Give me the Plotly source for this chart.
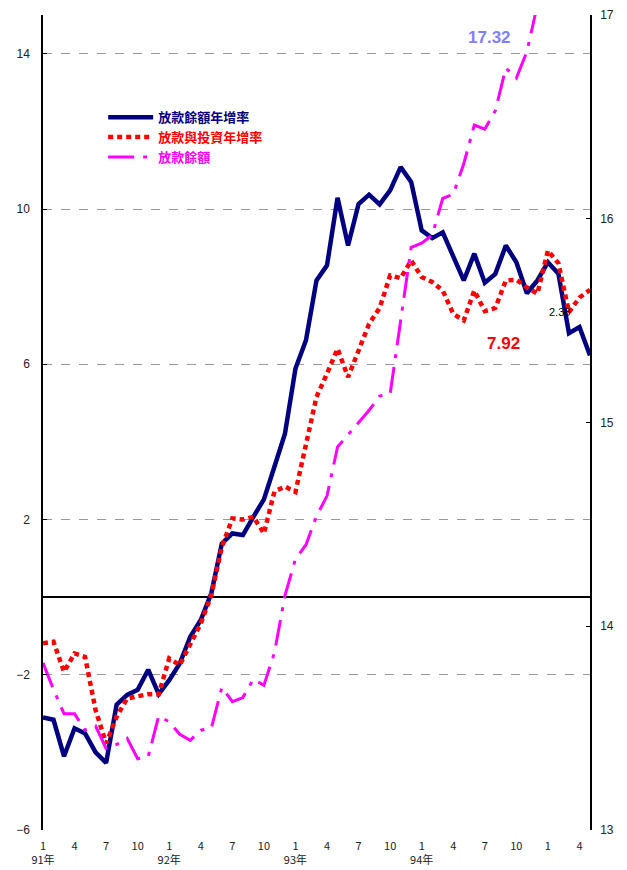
import plotly.graph_objects as go

# ---- data ----
x_idx = list(range(53))  # monthly, 91/1 .. 95/5
tick_vals = list(range(0, 53, 3))
tick_text = ["1<br>91年", "4", "7", "10",
             "1<br>92年", "4", "7", "10",
             "1<br>93年", "4", "7", "10",
             "1<br>94年", "4", "7", "10",
             "1", "4"]

loan_growth = [-3.10, -3.16, -4.10, -3.38, -3.51, -4.00, -4.27, -2.77, -2.52, -2.39,
               -1.87, -2.50, -2.14, -1.71, -1.02, -0.59, 0.10, 1.38, 1.64, 1.60,
               2.07, 2.52, 3.36, 4.21, 5.89, 6.62, 8.16, 8.55, 10.29, 9.06,
               10.13, 10.37, 10.12, 10.48, 11.08, 10.70, 9.45, 9.25, 9.40, 8.80,
               8.16, 8.85, 8.10, 8.33, 9.06, 8.63, 7.83, 8.16, 8.63, 8.33,
               6.80, 6.96, 6.23]

loan_inv_growth = [-1.19, -1.15, -1.92, -1.45, -1.54, -2.91, -3.77, -3.08, -2.61, -2.55,
                   -2.50, -2.50, -1.58, -1.75, -1.19, -0.68, 0.05, 1.29, 2.03, 2.00,
                   2.07, 1.64, 2.72, 2.85, 2.71, 3.90, 5.16, 5.76, 6.40, 5.67,
                   6.36, 7.04, 7.45, 8.29, 8.22, 8.67, 8.25, 8.12, 7.90, 7.30,
                   7.13, 7.90, 7.37, 7.45, 8.16, 8.18, 7.98, 7.82, 8.93, 8.60,
                   7.34, 7.72, 7.92]

loan_balance = [13.82, 13.69, 13.57, 13.57, 13.49, 13.51, 13.40, 13.42, 13.45, 13.35,
                13.36, 13.56, 13.53, 13.47, 13.44, 13.49, 13.50, 13.70, 13.63, 13.65,
                13.74, 13.71, 13.87, 14.15, 14.33, 14.40, 14.54, 14.64, 14.88, 14.94,
                15.00, 15.06, 15.13, 15.14, 15.50, 15.86, 15.88, 15.92, 16.10, 16.12,
                16.27, 16.46, 16.44, 16.53, 16.74, 16.69, 16.82, 17.05, 17.10, 17.15,
                17.20, 17.25, 17.32]

names = ["放款餘額年增率", "放款與投資年增率", "放款餘額"]
colors = ["#000080", "#FF0000", "#FF00FF"]

FONT = "Liberation Sans, Arial, Noto Sans CJK TC, sans-serif"
CJK = "Noto Sans CJK TC, Liberation Sans, sans-serif"

fig = go.Figure()
fig.add_trace(go.Scatter(
    x=x_idx, y=loan_growth, mode="lines",
    name=f'<span style="color:{colors[0]}">{names[0]}</span>',
    line=dict(color=colors[0], width=4.5)))
fig.add_trace(go.Scatter(
    x=x_idx, y=loan_inv_growth, mode="lines",
    name=f'<span style="color:{colors[1]}">{names[1]}</span>',
    line=dict(color=colors[1], width=4.5, dash="5px,4px")))
fig.add_trace(go.Scatter(
    x=x_idx, y=loan_balance, mode="lines", yaxis="y2",
    name=f'<span style="color:{colors[2]}">{names[2]}</span>',
    line=dict(color=colors[2], width=3, dash="26px,9px,4px,9px")))

# page body has an 8px default margin, so the figure is sized/offset to compensate
fig.update_layout(
    width=619, height=862,
    margin=dict(l=35, r=37, t=7, b=40),
    paper_bgcolor="white", plot_bgcolor="white",
    font=dict(family=FONT, size=11, color="#222222"),
    showlegend=True,
    legend=dict(x=0.11, y=0.893, xanchor="left", yanchor="top",
                bgcolor="rgba(0,0,0,0)", borderwidth=0,
                font=dict(family=CJK, size=13, weight="bold"),
                tracegroupgap=0, itemwidth=45),
    xaxis=dict(range=[0, 52], tickmode="array", tickvals=tick_vals, ticktext=tick_text,
               showgrid=False, zeroline=False, showline=False, ticks="",
               automargin=False, ticklabelstandoff=8,
               tickfont=dict(family=CJK, size=11, color="#222222")),
    yaxis=dict(range=[-6, 15], tick0=-6, dtick=4, showgrid=True,
               gridcolor="#999999", griddash="dash", gridwidth=1,
               zeroline=True, zerolinecolor="#000000", zerolinewidth=1.5,
               showline=True, linecolor="#000000", linewidth=1.5,
               ticks="inside", ticklen=4, tickcolor="#000000",
               automargin=False, ticklabelstandoff=9,
               tickfont=dict(size=12)),
    yaxis2=dict(range=[13, 17], dtick=1, overlaying="y", side="right",
                showgrid=False, zeroline=False,
                showline=True, linecolor="#000000", linewidth=1.5,
                ticks="inside", ticklen=4, tickcolor="#000000",
                automargin=False, ticklabelstandoff=6,
                tickfont=dict(size=12)),
    annotations=[
        dict(x=42.4, y=16.89, xref="x", yref="y2", text="<b>17.32</b>",
             showarrow=False, font=dict(family=FONT, size=17, color="#8080FF")),
        dict(x=43.8, y=6.54, xref="x", yref="y", text="<b>7.92</b>",
             showarrow=False, font=dict(family=FONT, size=17, color="#FF0000")),
        dict(x=49.1, y=7.36, xref="x", yref="y", text="2.38",
             showarrow=False, font=dict(family=FONT, size=11, color="#000000")),
    ],
)

fig.write_html("out.html")
